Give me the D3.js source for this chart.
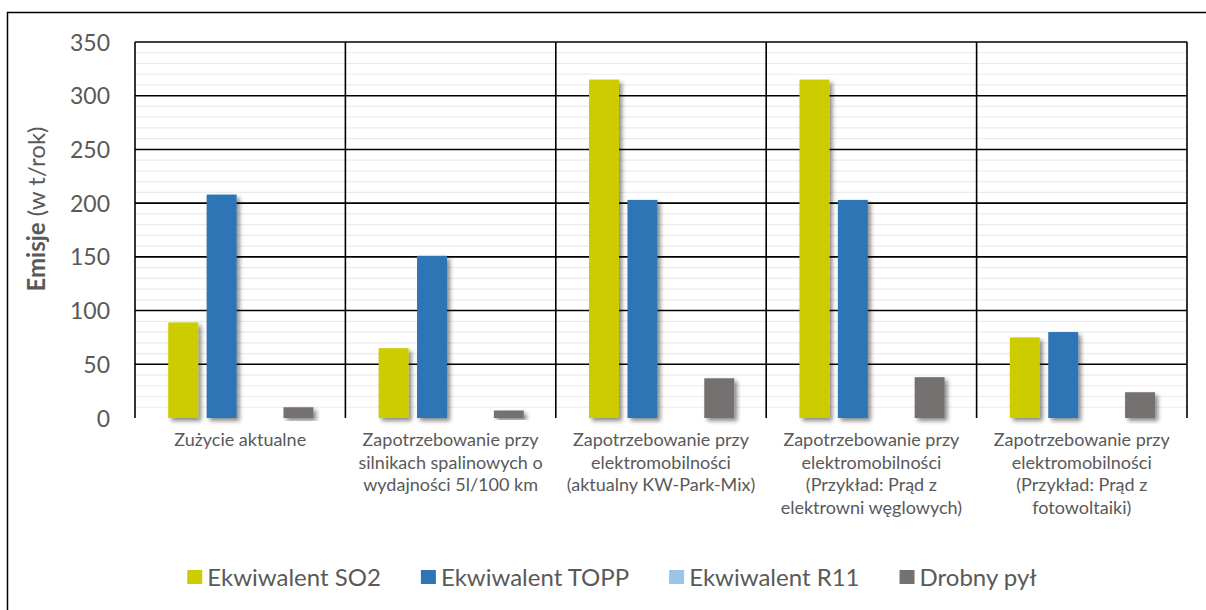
<!DOCTYPE html>
<html>
<head>
<meta charset="utf-8">
<script src="https://cdn.jsdelivr.net/npm/d3@7"></script>
<style>
  html, body { margin: 0; padding: 0; background: #fff; }
  svg { display: block; font-family: Lato, "Open Sans", sans-serif; }
</style>
</head>
<body>
<svg id="chart" width="1206" height="610"></svg>
<script>
// Emission categories (each label split into its drawn lines)
const categories = [
  ["Zużycie aktualne"],
  ["Zapotrzebowanie przy", "silnikach spalinowych o", "wydajności 5l/100 km"],
  ["Zapotrzebowanie przy", "elektromobilności", "(aktualny KW-Park-Mix)"],
  ["Zapotrzebowanie przy", "elektromobilności", "(Przykład: Prąd z", "elektrowni węglowych)"],
  ["Zapotrzebowanie przy", "elektromobilności", "(Przykład: Prąd z", "fotowoltaiki)"]
];
const seriesNames = ["Ekwiwalent SO2", "Ekwiwalent TOPP", "Ekwiwalent R11", "Drobny pył"];
const so2  = [89, 65, 315, 315, 75];
const topp = [208, 151, 203, 203, 80];
const r11  = [0, 0, 0, 0, 0];
const pm   = [10, 7, 37, 38, 24];
const yTicks = [0, 50, 100, 150, 200, 250, 300, 350];
const colors = ["#cccc00", "#2e75b6", "#9dc3e6", "#767171"];

const series = [so2, topp, r11, pm];
const svg = d3.select("#chart");
const textColor = "#595959";

const plot = { left: 135, right: 1187, top: 42, bottom: 418 };

// soft drop shadow under the bars and baseline
const defs = svg.append("defs");
const f = defs.append("filter").attr("id", "shadow")
  .attr("x", "-30%").attr("y", "-10%").attr("width", "180%").attr("height", "130%");
f.append("feDropShadow").attr("dx", 3).attr("dy", 3).attr("stdDeviation", 2.2)
  .attr("flood-color", "#000").attr("flood-opacity", 0.45);

// outer frame
svg.append("rect").attr("x", 7.5).attr("y", 12.5).attr("width", 1220).attr("height", 620)
  .attr("fill", "none").attr("stroke", "#000").attr("stroke-width", 1.5);

const x0 = d3.scaleBand().domain(d3.range(categories.length))
  .range([plot.left, plot.right]).paddingInner(0).paddingOuter(0);
const bw = x0.bandwidth();
const x1 = d3.scaleBand().domain(d3.range(seriesNames.length))
  .range([bw * 0.158, bw * 0.848]).paddingInner(0.22).paddingOuter(0);
const y = d3.scaleLinear().domain([0, 350]).range([plot.bottom, plot.top]);

// minor gridlines every 10
const minor = d3.range(10, 350, 10).filter(v => v % 50 !== 0);
svg.append("g").selectAll("line").data(minor).join("line")
  .attr("x1", plot.left).attr("x2", plot.right)
  .attr("y1", d => y(d)).attr("y2", d => y(d))
  .attr("stroke", "#ebebeb").attr("stroke-width", 1.2);

// major gridlines
svg.append("g").selectAll("line").data(yTicks.filter(v => v > 0)).join("line")
  .attr("x1", plot.left).attr("x2", plot.right)
  .attr("y1", d => y(d)).attr("y2", d => y(d))
  .attr("stroke", "#000").attr("stroke-width", 1.6);

// category separators and side borders
const seps = d3.range(categories.length + 1).map(i => i < categories.length ? x0(i) : plot.right);
svg.append("g").selectAll("line").data(seps).join("line")
  .attr("x1", d => d).attr("x2", d => d)
  .attr("y1", plot.top).attr("y2", plot.bottom)
  .attr("stroke", "#000").attr("stroke-width", 1.6);

// bars
const groups = svg.append("g").selectAll("g").data(categories).join("g")
  .attr("transform", (d, i) => `translate(${x0(i)},0)`);
groups.selectAll("rect")
  .data((d, i) => series.map((s, k) => ({ k, v: s[i] })).filter(o => o.v > 0))
  .join("rect")
  .attr("x", d => x1(d.k))
  .attr("width", x1.bandwidth())
  .attr("y", d => y(d.v))
  .attr("height", d => y(0) - y(d.v))
  .attr("fill", d => colors[d.k])
  .attr("filter", "url(#shadow)");

// baseline axis
svg.append("line")
  .attr("x1", plot.left - 1).attr("x2", plot.right + 1)
  .attr("y1", y(0)).attr("y2", y(0))
  .attr("stroke", "#000").attr("stroke-width", 2.6)
  .attr("filter", "url(#shadow)");

// y axis tick labels
const yAxis = d3.axisLeft(y).tickValues(yTicks).tickSize(0).tickPadding(0);
const gy = svg.append("g").attr("transform", "translate(110,0)").call(yAxis);
gy.select(".domain").remove();
gy.attr("font-family", null).attr("font-size", null);
gy.selectAll("text").style("font-size", "23px").attr("fill", textColor)
  .attr("dy", "0.35em");

// y axis title
const yt = svg.append("text")
  .attr("transform", `translate(45,209) rotate(-90)`)
  .attr("text-anchor", "middle").style("font-size", "24px").attr("fill", textColor);
yt.append("tspan").attr("font-weight", "bold").text("Emisje");
yt.append("tspan").text(" (w t/rok)");

// category labels
const cl = svg.append("g").selectAll("text").data(categories).join("text")
  .attr("text-anchor", "middle").style("font-size", "18px").attr("fill", textColor)
  .attr("x", (d, i) => x0(i) + bw / 2).attr("y", 446);
cl.selectAll("tspan").data(d => d).join("tspan")
  .attr("x", function () { return d3.select(this.parentNode).attr("x"); })
  .attr("dy", (d, j) => j === 0 ? 0 : 22.5)
  .text(d => d);

// legend: items laid out from their measured text widths, centred
const lg = svg.append("g").attr("transform", "translate(0,577)");
const items = lg.selectAll("g").data(seriesNames).join("g");
items.append("rect").attr("x", 0).attr("y", -7).attr("width", 15).attr("height", 14)
  .attr("fill", (d, i) => colors[i]);
items.append("text").attr("x", 20).attr("dy", "0.36em").style("font-size", "24px")
  .attr("fill", textColor).text(d => d);
const itemGap = 40;
let cursor = 0;
const offsets = [];
items.each(function () {
  offsets.push(cursor);
  const w = 20 + d3.select(this).select("text").node().getComputedTextLength();
  cursor += w + itemGap;
});
const total = cursor - itemGap;
const startX = 612 - total / 2;
items.attr("transform", (d, i) => `translate(${startX + offsets[i]},0)`);
</script>
</body>
</html>
